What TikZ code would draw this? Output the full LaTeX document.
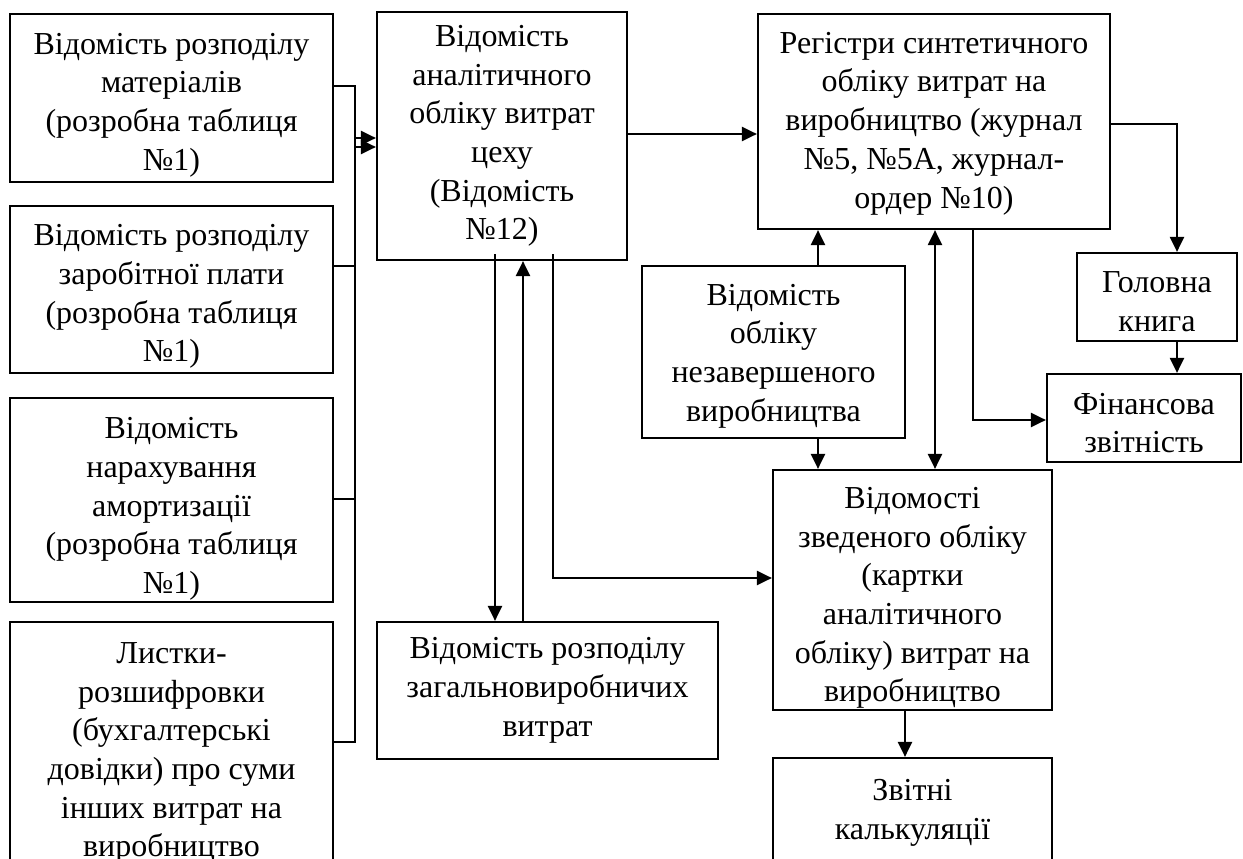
\documentclass[tikz,border=0pt]{standalone}
\usepackage{fontspec}
\setmainfont{Liberation Serif}
\usetikzlibrary{arrows.meta}

\begin{document}
\begin{tikzpicture}[x=1pt,y=-1pt,
  box/.style={draw, line width=2.2pt, inner sep=0pt},
  txt/.style={inner sep=0pt, align=center,
    font=\fontsize{32pt}{38.7pt}\selectfont},
  link/.style={line width=2.2pt},
  arr/.style={line width=2.2pt, -{Triangle[length=15pt,width=14pt]}},
  dbl/.style={line width=2.2pt, {Triangle[length=15pt,width=14pt]}-{Triangle[length=15pt,width=14pt]}}]

\useasboundingbox (0,0) rectangle (1243,859);
\clip (0,0) rectangle (1243,859);

% source documents (left column)
\node[box, minimum width=323pt, minimum height=168pt] (L1) at (171.5,98) {};
\node[txt] (L1t) at ([yshift=-7pt]L1.center)
  {Відомість розподілу\\матеріалів\\(розробна таблиця\\№1)};
\node[box, minimum width=323pt, minimum height=167pt] (L2) at (171.5,289.5) {};
\node[txt] (L2t) at ([yshift=-7pt]L2.center)
  {Відомість розподілу\\заробітної плати\\(розробна таблиця\\№1)};
\node[box, minimum width=323pt, minimum height=204pt] (L3) at (171.5,500) {};
\node[txt] (L3t) at ([yshift=-9pt]L3.center)
  {Відомість\\нарахування\\амортизації\\(розробна таблиця\\№1)};
\node[box, minimum width=323pt, minimum height=258pt] (L4) at (171.5,751) {};
\node[txt] (L4t) at ([yshift=-2pt]L4.center)
  {Листки-\\розшифровки\\(бухгалтерські\\довідки) про суми\\інших витрат на\\виробництво};

% analytical and synthetic registers
\node[box, minimum width=250pt, minimum height=248pt] (A) at (502,136) {};
\node[txt] (At) at (A.center)
  {Відомість\\аналітичного\\обліку витрат\\цеху\\(Відомість\\№12)};
\node[box, minimum width=341pt, minimum height=137pt] (Z) at (547.5,690.5) {};
\node[txt] (Zt) at (Z.center)
  {Відомість розподілу\\загальновиробничих\\витрат};
\node[box, minimum width=352pt, minimum height=215pt] (R) at (934,121.5) {};
\node[txt] (Rt) at ([yshift=-2pt]R.center)
  {Регістри синтетичного\\обліку витрат на\\виробництво (журнал\\№5, №5А, журнал-\\ордер №10)};
\node[box, minimum width=263pt, minimum height=172pt] (N) at (773.5,352) {};
\node[txt] (Nt) at ([yshift=-4pt]N.center)
  {Відомість\\обліку\\незавершеного\\виробництва};
\node[box, minimum width=279pt, minimum height=240pt] (S) at (912.5,590) {};
\node[txt] (St) at ([yshift=-8pt]S.center)
  {Відомості\\зведеного обліку\\(картки\\аналітичного\\обліку) витрат на\\виробництво};
\node[box, minimum width=279pt, minimum height=104pt] (K) at (912.5,810) {};
\node[txt] (Kt) at ([yshift=-3pt]K.center)
  {Звітні\\калькуляції};
\node[box, minimum width=160pt, minimum height=88pt] (G) at (1157,297) {};
\node[txt] (Gt) at ([yshift=-5pt]G.center)
  {Головна\\книга};
\node[box, minimum width=194pt, minimum height=88pt] (F) at (1144,418) {};
\node[txt] (Ft) at ([yshift=-5pt]F.center)
  {Фінансова\\звітність};

% collecting bus on the left
\coordinate (b1) at (355,86);
\coordinate (b2) at (355,266);
\coordinate (b3) at (355,499);
\coordinate (b4) at (355,742);
\coordinate (ba) at (355,138);
\coordinate (bb) at (355,147);
\draw[link] (L1.east |- b1) -- (b1) -- (b4) -- (L4.east |- b4);
\draw[link] (L2.east |- b2) -- (b2);
\draw[link] (L3.east |- b3) -- (b3);
\draw[arr] (ba) -- (ba -| A.west);
\draw[arr] (bb) -- (bb -| A.west);

% analytical sheet links
\coordinate (ar) at (627,134);
\draw[arr] (ar) -- (ar -| R.west);
\coordinate (d1) at (495,254);
\coordinate (d2) at (523,0);
\coordinate (d3) at (553,254);
\coordinate (d4) at (553,578);
\draw[arr] (d1) -- (d1 |- Z.north);
\draw[arr] (d2 |- Z.north) -- (d2 |- A.south);
\draw[arr] (d3) -- (d4) -- (d4 -| S.west);

% middle links
\coordinate (m1) at (818,0);
\coordinate (m2) at (935,0);
\coordinate (m3) at (973,420);
\draw[arr] (m1 |- N.north) -- (m1 |- R.south);
\draw[arr] (m1 |- N.south) -- (m1 |- S.north);
\draw[dbl] (m2 |- R.south) -- (m2 |- S.north);
\draw[arr] (m3 |- R.south) -- (m3) -- (m3 -| F.west);
\coordinate (k1) at (905,0);
\draw[arr] (k1 |- S.south) -- (k1 |- K.north);

% right column
\coordinate (r1) at (1177,124);
\draw[arr] (R.east |- r1) -- (r1) -- (r1 |- G.north);
\draw[arr] (r1 |- G.south) -- (r1 |- F.north);

\end{tikzpicture}
\end{document}
